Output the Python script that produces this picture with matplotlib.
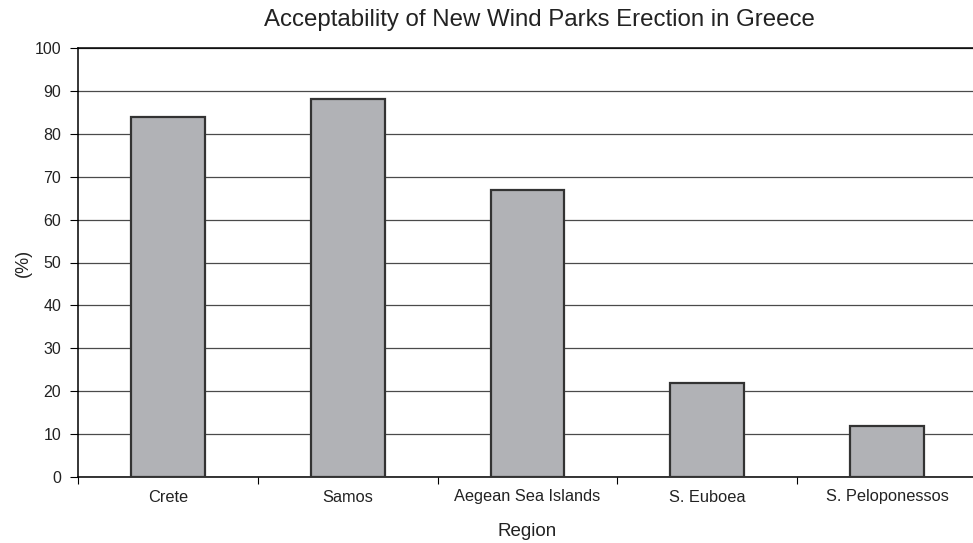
import numpy as np
import matplotlib
matplotlib.use("Agg")
import matplotlib.pyplot as plt

# acceptability per region, percent
regions = ['Crete', 'Samos', 'Aegean Sea Islands', 'S. Euboea', 'S. Peloponessos']
acceptance = [84, 88, 67, 22, 12]
yticks = list(range(0, 101, 10))

plt.rcParams['font.family'] = ['Liberation Sans', 'DejaVu Sans']

fig = plt.figure(figsize=(9.73, 5.43), dpi=100)
# axes run slightly past the right edge, like the clipped original
ax = fig.add_axes([78 / 973, (543 - 477) / 543, 899 / 973, 429 / 543])

x = np.arange(len(regions))
ax.bar(x, acceptance, width=0.41, color='#b1b2b6', edgecolor='#333333',
       linewidth=1.6, zorder=3)

ax.set_xlim(-0.5, len(regions) - 0.5)
ax.set_ylim(0, 100)
ax.set_yticks(yticks)
ax.yaxis.grid(True, color='#4a4a4a', linewidth=0.9, zorder=0)

# category labels centred, ticks on the boundaries
ax.set_xticks(x)
ax.set_xticklabels(regions, fontsize=11.8, color='#222222')
ax.set_xticks(np.arange(len(regions) + 1) - 0.5, minor=True)
ax.tick_params(axis='x', which='major', length=0, pad=9)
ax.tick_params(axis='x', which='minor', length=5, width=0.8, color='black')
ax.tick_params(axis='y', length=6, width=0.8, labelsize=11.5, pad=6,
               labelcolor='#222222')

for side in ['left', 'bottom', 'top']:
    ax.spines[side].set_color('black')
    ax.spines[side].set_linewidth(1.1)
ax.spines['right'].set_visible(False)

ax.set_xlabel('Region', fontsize=13.5, labelpad=13, color='#222222')
ax.set_ylabel('(%)', fontsize=13, labelpad=2, color='#222222')
fig.text(539 / 973, 1 - 20 / 543, 'Acceptability of New Wind Parks Erection in Greece',
         ha='center', va='center', fontsize=17.3, color='#222222')

fig.savefig('out.png', dpi=100)
